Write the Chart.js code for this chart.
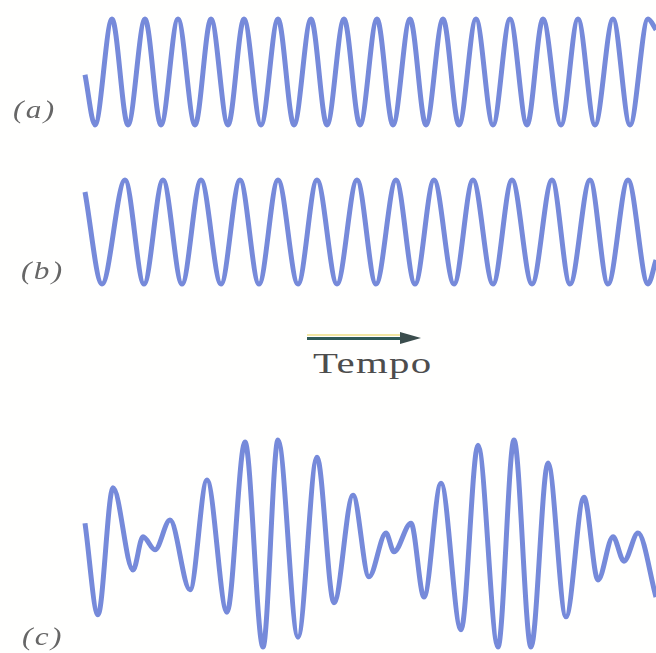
<!DOCTYPE html>
<html>
<head>
<meta charset="utf-8">
<script src="https://cdn.jsdelivr.net/npm/chart.js@4/dist/chart.umd.min.js"></script>
<style>
  body { margin: 0; background: #fff; }
  #page { position: relative; width: 656px; height: 653px; overflow: hidden; background: #fffffe; }
  canvas { position: absolute; left: 0; }
  .label { position: absolute; font-family: "Liberation Serif", serif; font-style: italic; font-size: 26px; letter-spacing: 2px; color: #666; line-height: 26px; white-space: nowrap; transform: scaleX(1.2); transform-origin: left top; }
  #tempo { position: absolute; left: 313px; top: 348px; font-family: "Liberation Serif", serif; font-size: 30px; line-height: 30px; letter-spacing: 1px; color: #4d4d4d; transform: scaleX(1.36); transform-origin: left top; white-space: nowrap; }
  #arrow_glow { position: absolute; left: 307px; top: 334px; width: 93px; height: 2px; background: #f2e6a2; }
  #arrow_shaft { position: absolute; left: 307px; top: 337px; width: 96px; height: 3px; background: #2f5a58; }
  #arrow_head { position: absolute; left: 400px; top: 332px; width: 0; height: 0; border-top: 6px solid transparent; border-bottom: 6px solid transparent; border-left: 21px solid #3b4d4d; }
</style>
</head>
<body>
<div id="page">
  <canvas id="chart_a" width="656" height="144" style="top:0px"></canvas>
  <canvas id="chart_b" width="656" height="144" style="top:160px"></canvas>
  <canvas id="chart_c" width="656" height="220" style="top:433px"></canvas>
  <div class="label" style="left:13px; top:97px">(a)</div>
  <div class="label" style="left:21px; top:258px">(b)</div>
  <div class="label" style="left:22px; top:624px">(c)</div>
  <div id="arrow_glow"></div>
  <div id="arrow_shaft"></div>
  <div id="arrow_head"></div>
  <div id="tempo">Tempo</div>
</div>
<script>
// time of each extremum (same time axis for the three waves), and the displacement there
var times_a = [1, 11, 28, 44, 61, 77, 94, 111, 127, 144, 160, 177, 194, 210, 227, 243, 260, 276,
  293, 309, 326, 342, 359, 375, 392, 409, 426, 443, 459, 477, 494, 511, 529, 546, 564, 572];
var values_a = [-0.05, -1, 1, -1, 1, -1, 1, -1, 1, -1, 1, -1, 1, -1, 1, -1, 1, -1,
  1, -1, 1, -1, 1, -1, 1, -1, 1, -1, 1, -1, 1, -1, 1, -1, 1, 0.8];

var times_b = [1, 18, 41, 60, 79, 98, 117, 137, 156, 175, 194, 214, 233, 253, 273, 292,
  312, 331, 350, 370, 389, 409, 428, 448, 468, 486, 506, 524, 544, 564, 572];
var values_b = [0.77, -1, 1, -1, 1, -1, 1, -1, 1, -1, 1, -1, 1, -1, 1, -1,
  1, -1, 1, -1, 1, -1, 1, -1, 1, -1, 1, -1, 1, -1, -0.54];

var times_c = [1, 14, 29, 49, 59, 71, 86, 106, 123, 143, 161, 179, 194, 214, 233, 250, 269, 285,
  302, 310, 327, 340, 357, 377, 394, 414, 430, 447, 464, 482, 500, 514, 529, 540, 554, 572];
var values_c = [0.38, -1.38, 1.06, -0.52, 0.12, -0.13, 0.44, -0.90, 1.21, -1.33, 1.94, -2.0, 1.98, -1.81, 1.65, -1.15, 0.92, -0.65,
  0.19, -0.17, 0.38, -1.04, 1.15, -1.67, 1.88, -2.0, 1.98, -2.0, 1.54, -1.42, 0.88, -0.71, 0.12, -0.35, 0.19, -1.04];

var time_max = 572;
var wave_color = "rgb(118,138,218)";

var make_points = function(times, values) {
  let points = [];
  for (let i = 0; i < times.length; i++) {
    points.push({ x: times[i], y: values[i] });
  }
  return points;
};

var make_wave = function(canvas_id, times, values, y_limit) {
  return new Chart(document.getElementById(canvas_id), {
    type: "line",
    data: {
      datasets: [{
        data: make_points(times, values),
        borderColor: wave_color,
        borderWidth: 5,
        pointRadius: 0,
        fill: false,
        cubicInterpolationMode: "monotone",
        clip: false,
      }],
    },
    options: {
      responsive: false,
      animation: false,
      events: [],
      layout: { padding: { left: 84, right: 0, top: 0, bottom: 0 } },
      plugins: { legend: { display: false }, tooltip: { enabled: false } },
      scales: {
        x: { type: "linear", min: 0, max: time_max, display: false },
        y: { min: -y_limit, max: y_limit, display: false },
      },
    },
  });
};

make_wave("chart_a", times_a, values_a, 1.36);
make_wave("chart_b", times_b, values_b, 1.385);
make_wave("chart_c", times_c, values_c, 2.115);
</script>
</body>
</html>
